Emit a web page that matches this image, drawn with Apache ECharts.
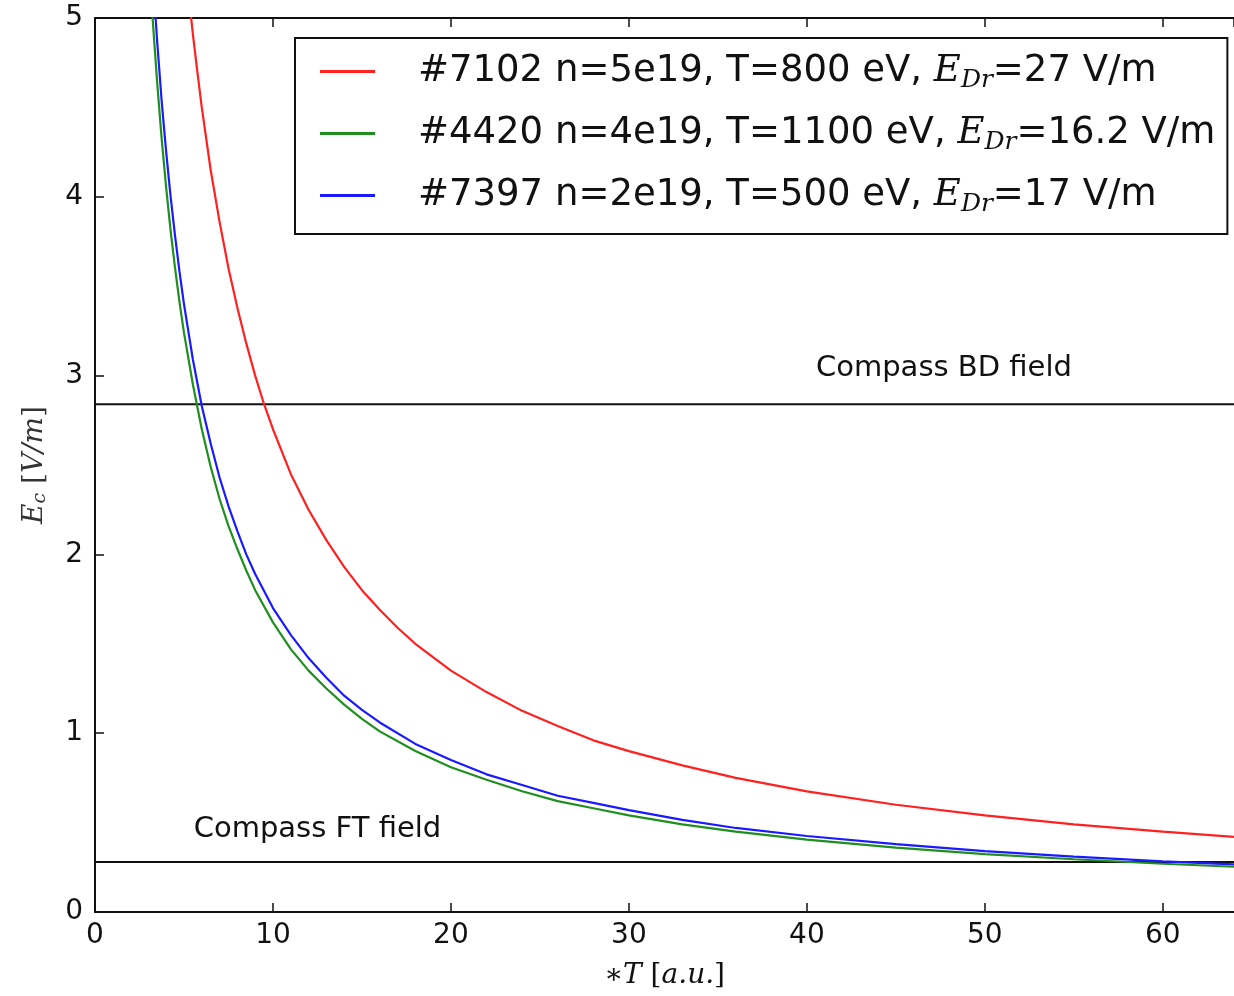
<!DOCTYPE html>
<html>
<head>
<meta charset="utf-8">
<script src="https://cdn.jsdelivr.net/npm/echarts@6/dist/echarts.min.js"></script>
<style>
html,body{margin:0;padding:0;background:#fff;}
#main{width:1234px;height:996px;}
</style>
</head>
<body>
<div id="main"></div>
<script>
// ---- data ----
var xTicks = [0, 10, 20, 30, 40, 50, 60];
var yTicks = [0, 1, 2, 3, 4, 5];

var redX = [5, 5.25, 5.5, 5.75, 6, 6.5, 7, 7.5, 8, 8.5, 9, 9.5, 10, 11, 12, 13, 14, 15, 16, 17, 18, 20, 22, 24, 26, 28, 30, 33, 36, 40, 45, 50, 55, 60, 64];
var redY = [5.40, 5.14, 4.91, 4.70, 4.50, 4.15, 3.86, 3.60, 3.38, 3.18, 3.00, 2.84, 2.70, 2.45, 2.25, 2.08, 1.93, 1.80, 1.69, 1.59, 1.50, 1.35, 1.23, 1.125, 1.04, 0.96, 0.90, 0.82, 0.75, 0.675, 0.60, 0.54, 0.49, 0.45, 0.42];

var greenX = [3, 3.25, 3.5, 3.75, 4, 4.25, 4.5, 4.75, 5, 5.5, 6, 6.5, 7, 7.5, 8, 8.5, 9, 10, 11, 12, 13, 14, 15, 16, 18, 20, 22, 24, 26, 28, 30, 33, 36, 40, 45, 50, 55, 60, 64];
var greenY = [5.40, 4.98, 4.63, 4.32, 4.05, 3.81, 3.60, 3.41, 3.24, 2.95, 2.70, 2.49, 2.31, 2.16, 2.03, 1.91, 1.80, 1.62, 1.47, 1.35, 1.25, 1.16, 1.08, 1.01, 0.90, 0.81, 0.74, 0.675, 0.62, 0.58, 0.54, 0.49, 0.45, 0.405, 0.36, 0.324, 0.295, 0.27, 0.253];

var blueX = [3, 3.25, 3.5, 3.75, 4, 4.25, 4.5, 4.75, 5, 5.5, 6, 6.5, 7, 7.5, 8, 8.5, 9, 10, 11, 12, 13, 14, 15, 16, 18, 20, 22, 24, 26, 28, 30, 33, 36, 40, 45, 50, 55, 60, 64];
var blueY = [5.67, 5.23, 4.86, 4.53, 4.25, 4.00, 3.78, 3.58, 3.40, 3.09, 2.83, 2.62, 2.43, 2.27, 2.13, 2.00, 1.89, 1.70, 1.55, 1.42, 1.31, 1.21, 1.13, 1.06, 0.94, 0.85, 0.77, 0.71, 0.65, 0.61, 0.57, 0.515, 0.47, 0.425, 0.38, 0.34, 0.31, 0.283, 0.266];

var bdLevel = 2.84;   // Compass BD field
var ftLevel = 0.28;   // Compass FT field
var bdLabelAt = [47.7, 3.04];
var ftLabelAt = [12.5, 0.46];

var seriesNames = ['#7102', '#4420', '#7397'];
var legendText = [
  ['#7102 n=5e19, T=800 eV, ', '=27 V/m'],
  ['#4420 n=4e19, T=1100 eV, ', '=16.2 V/m'],
  ['#7397 n=2e19, T=500 eV, ', '=17 V/m']
];
var colors = ['#ff2020', '#1f8f1f', '#1a1aff'];

function pairs(xs, ys) { return xs.map(function (x, i) { return [x, ys[i]]; }); }

var chart = echarts.init(document.getElementById('main'), null, {renderer: 'canvas'});

var sansFont = 'DejaVu Sans';
var serifFont = 'DejaVu Serif';

function curve(idx, xs, ys) {
  return {
    name: seriesNames[idx],
    type: 'line',
    data: pairs(xs, ys),
    symbol: 'none',
    showSymbol: false,
    smooth: false,
    clip: true,
    z: 3 + idx,
    lineStyle: {color: colors[idx], width: 2.2},
    itemStyle: {color: colors[idx]},
    emphasis: {disabled: true},
    animation: false
  };
}

function hline(level, labelText, at) {
  return {
    type: 'line',
    data: [[0, level], [64, level]],
    symbol: 'none',
    lineStyle: {color: '#111', width: 2},
    z: 2,
    animation: false,
    emphasis: {disabled: true},
    markPoint: {
      symbol: 'circle',
      symbolSize: 0,
      data: [{coord: at}],
      label: {
        show: true,
        position: 'inside',
        formatter: labelText,
        color: '#111',
        fontFamily: sansFont,
        fontSize: 29
      }
    }
  };
}

var option = {
  backgroundColor: '#ffffff',
  animation: false,
  grid: {left: 95, top: 18, right: 0, bottom: 84, containLabel: false},
  legend: {
    data: seriesNames,
    orient: 'vertical',
    left: 295,
    top: 38,
    padding: [12, 12, 17, 25],
    itemGap: 19,
    itemWidth: 55,
    itemHeight: 3,
    icon: 'rect',
    backgroundColor: '#fff',
    borderColor: '#111',
    borderWidth: 2,
    borderRadius: 0,
    selectedMode: false,
    formatter: function (name) {
      var i = seriesNames.indexOf(name);
      return '{sp|}{t|' + legendText[i][0] + '}{e|E}{s|Dr}{t|' + legendText[i][1] + '}';
    },
    textStyle: {
      rich: {
        sp: {width: 38, lineHeight: 41},
        t: {fontFamily: sansFont, fontSize: 37, color: '#111', lineHeight: 41},
        e: {fontFamily: serifFont, fontStyle: 'italic', fontSize: 37, color: '#111', lineHeight: 41},
        s: {fontFamily: serifFont, fontStyle: 'italic', fontSize: 25, color: '#111', lineHeight: 41, padding: [18, 0, 0, 0]}
      }
    }
  },
  xAxis: [{
    type: 'value',
    min: 0, max: 64, interval: 10,
    position: 'bottom',
    axisLine: {show: true, lineStyle: {color: '#111', width: 2}},
    axisTick: {show: true, inside: true, length: 9, lineStyle: {color: '#111', width: 1.5}},
    axisLabel: {
      show: true, color: '#111', fontFamily: sansFont, fontSize: 28, margin: 10,
      showMaxLabel: false,
      formatter: function (v) { return xTicks.indexOf(v) >= 0 ? String(v) : ''; }
    },
    splitLine: {show: false},
    name: '{i|∗T }{r|[}{i|a.u.}{r|]}',
    nameLocation: 'middle',
    nameGap: 50,
    nameTextStyle: {
      rich: {
        i: {fontFamily: serifFont, fontStyle: 'italic', fontSize: 28, color: '#111'},
        r: {fontFamily: serifFont, fontSize: 28, color: '#111'}
      }
    }
  }, {
    type: 'value',
    min: 0, max: 64, interval: 10,
    position: 'top',
    axisLine: {show: true, lineStyle: {color: '#111', width: 2}},
    axisTick: {show: true, inside: true, length: 9, lineStyle: {color: '#111', width: 1.5}},
    axisLabel: {show: false},
    splitLine: {show: false}
  }],
  yAxis: [{
    type: 'value',
    min: 0, max: 5, interval: 1,
    axisLine: {show: true, lineStyle: {color: '#111', width: 2}},
    axisTick: {show: true, inside: true, length: 9, lineStyle: {color: '#111', width: 1.5}},
    axisLabel: {
      show: true, color: '#111', fontFamily: sansFont, fontSize: 28, margin: 12,
      formatter: function (v) { return yTicks.indexOf(v) >= 0 ? String(v) : ''; }
    },
    splitLine: {show: false},
    name: '{i|E}{s|c}{r| [}{i|V/m}{r|]}',
    nameLocation: 'middle',
    nameGap: 45,
    nameRotate: 90,
    nameTextStyle: {
      rich: {
        i: {fontFamily: serifFont, fontStyle: 'italic', fontSize: 28, color: '#333'},
        s: {fontFamily: serifFont, fontStyle: 'italic', fontSize: 19, color: '#333', padding: [12, 0, 0, 0]},
        r: {fontFamily: serifFont, fontSize: 28, color: '#333'}
      }
    }
  }],
  series: [
    hline(bdLevel, 'Compass BD field', bdLabelAt),
    hline(ftLevel, 'Compass FT field', ftLabelAt),
    curve(0, redX, redY),
    curve(1, greenX, greenY),
    curve(2, blueX, blueY)
  ]
};

chart.setOption(option);
</script>
</body>
</html>
